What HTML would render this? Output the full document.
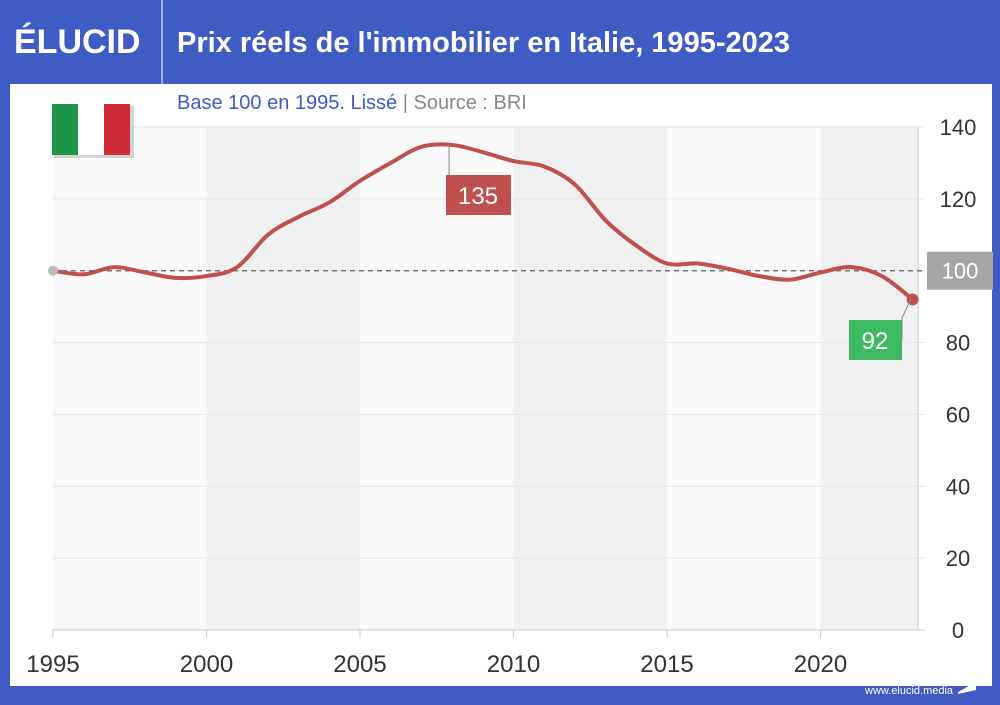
<!DOCTYPE html>
<html><head><meta charset="utf-8"><style>
body{margin:0;width:1000px;height:700px;background:#3f5bc4;font-family:"Liberation Sans",sans-serif;overflow:hidden}
</style></head><body>
<svg width="1000" height="700" xmlns="http://www.w3.org/2000/svg">
<rect x="0" y="0" width="1000" height="700" fill="#3f5bc4"/>
<rect x="10" y="84" width="982" height="602" fill="#fff"/>
<text x="14" y="53" fill="#fff" font-size="34" font-weight="bold">ÉLUCID</text>
<line x1="162" y1="0" x2="162" y2="84" stroke="#fff" stroke-width="1"/>
<text x="177" y="52" fill="#fff" font-size="29" font-weight="bold">Prix réels de l'immobilier en Italie, 1995-2023</text>
<text x="177" y="109" font-size="20"><tspan fill="#3f5bc4">Base 100 en 1995. Lissé</tspan><tspan fill="#888">  |  Source : BRI</tspan></text>
<g id="plot"></g>
<g>
<rect x="54" y="106" width="80" height="52" fill="#bbb" opacity="0.6"/>
<rect x="52" y="104" width="26" height="51" fill="#1e9447"/><rect x="78" y="104" width="26" height="51" fill="#fff"/><rect x="104" y="104" width="26" height="51" fill="#cf2b36"/>
</g>
<text x="865" y="694" fill="#fff" font-size="11">www.elucid.media</text>
<polygon points="958,692 976,682 976,690 958,694" fill="#fff"/>
</svg>
<script>
const years=[1995,1996,1997,1998,1999,2000,2001,2002,2003,2004,2005,2006,2007,2008,2009,2010,2011,2012,2013,2014,2015,2016,2017,2018,2019,2020,2021,2022,2023];
const values=[100,99,101,99.5,98,98.5,101,110,115,119,125,130,134.5,135,133,130.5,129,124,114,107,102,102,100.5,98.5,97.5,99.5,101,98.5,92];
const yTicks=[0,20,40,60,80,100,120,140];
const xTicks=[1995,2000,2005,2010,2015,2020];
const NS="http://www.w3.org/2000/svg";
const X=y=>53+(y-1995)*30.7;
const Y=v=>630-v*3.593;
const g=document.getElementById('plot');
function mk(t,a,p){const e=document.createElementNS(NS,t);for(const k in a)e.setAttribute(k,a[k]);(p||g).appendChild(e);return e;}
let r=mk('rect',{x:53,y:127,width:X(2023.2)-53,height:503,fill:'#fafafa'});


[[2000,2005],[2010,2015],[2020,2023.2]].forEach(b=>{
 const e=mk('rect',{x:X(b[0]),y:127,width:X(b[1])-X(b[0]),height:503,fill:'#f0f0f0'});
 
 
});
yTicks.forEach(t=>{
 const l=mk('line',{x1:53,x2:925,y1:Y(t),y2:Y(t),stroke:t===0?'#ccc':'#e6e6e6'});
 
 
 if(t!==100){const tx=mk('text',{x:958,y:Y(t)+8,'font-size':22,fill:'#333','text-anchor':'middle'});tx.textContent=t;
 
 }
});
const vl=mk('line',{x1:918,x2:918,y1:127,y2:630,stroke:'#ccc'});


xTicks.forEach(t=>{
 const l=mk('line',{x1:X(t),x2:X(t),y1:630,y2:638,stroke:'#ccc'});
 
 
 const tx=mk('text',{x:X(t),y:672,'font-size':24,fill:'#333','text-anchor':'middle'});tx.textContent=t;
 
 
});
const bl=mk('line',{x1:53,x2:925,y1:Y(100),y2:Y(100),stroke:'#777','stroke-dasharray':'5,4','stroke-width':1.5});


const br=mk('rect',{x:927,y:Y(100)-19,width:66,height:38,fill:'#a6a6a6'});


const bt=mk('text',{x:960,y:Y(100)+8,'font-size':22,fill:'#fff','text-anchor':'middle'});bt.textContent='100';


const pts=years.map((y,i)=>[X(y),Y(values[i])]);
let d='M'+pts[0][0]+','+pts[0][1];
for(let i=0;i<pts.length-1;i++){const p0=pts[Math.max(0,i-1)],p1=pts[i],p2=pts[i+1],p3=pts[Math.min(pts.length-1,i+2)];
 d+=` C${p1[0]+(p2[0]-p0[0])/6},${p1[1]+(p2[1]-p0[1])/6} ${p2[0]-(p3[0]-p1[0])/6},${p2[1]-(p3[1]-p1[1])/6} ${p2[0]},${p2[1]}`;}
const ln=mk('path',{d:d,fill:'none',stroke:'#c0504d','stroke-width':4});


const sd=mk('circle',{cx:pts[0][0],cy:pts[0][1],r:5,fill:'#bbb'});


const n=values.length-1;
const ed=mk('circle',{cx:pts[n][0],cy:pts[n][1],r:6,fill:'#c0504d'});


let mi=values.indexOf(Math.max(...values));
const pc=mk('line',{x1:pts[mi][0]-3,y1:pts[mi][1],x2:pts[mi][0]-3,y2:178,stroke:'#888'});


const pr=mk('rect',{x:446,y:175,width:65,height:40,fill:'#c0504d'});


const pt=mk('text',{x:478,y:204,'font-size':24,fill:'#fff','text-anchor':'middle'});pt.textContent=Math.round(values[mi]);


const ec=mk('polyline',{points:`${pts[n][0]-2},${pts[n][1]} 902,318 902,340`,fill:'none',stroke:'#888'});


const er=mk('rect',{x:849,y:320,width:53,height:40,fill:'#3dba62'});


const et=mk('text',{x:875,y:349,'font-size':24,fill:'#fff','text-anchor':'middle'});et.textContent=Math.round(values[n]);


</script>
</body></html>
